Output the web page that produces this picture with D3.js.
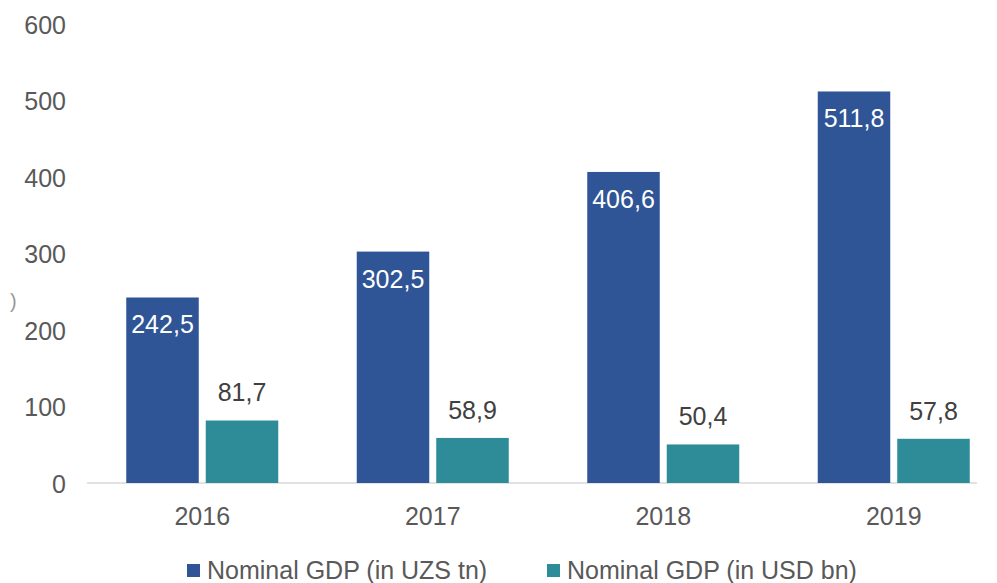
<!DOCTYPE html>
<html>
<head>
<meta charset="utf-8">
<script src="https://cdn.jsdelivr.net/npm/d3@7"></script>
<style>
html,body{margin:0;padding:0;background:#fff;}
svg{display:block;font-family:"Liberation Sans",Arial,sans-serif;}
</style>
</head>
<body>
<svg id="chart" width="997" height="583"></svg>
<script>
const years = ["2016", "2017", "2018", "2019"];
const seriesNames = ["Nominal GDP (in UZS tn)", "Nominal GDP (in USD bn)"];
const uzsTn = [242.5, 302.5, 406.6, 511.8];
const usdBn = [81.7, 58.9, 50.4, 57.8];
const yTicks = [0, 100, 200, 300, 400, 500, 600];
const colors = ["#2F5597", "#2E8C99"];

const svg = d3.select("#chart");
const textColor = "#595959";
const fs = 25;

const x = d3.scaleBand().domain(years).range([87, 1009]).paddingInner(0).paddingOuter(0);
const y = d3.scaleLinear().domain([0, 600]).range([483, 24]);

const barW = 72.5, gap = 7;
const groupW = barW * 2 + gap;
const series = [uzsTn, usdBn];

// baseline
svg.append("line")
  .attr("x1", 87).attr("x2", 977)
  .attr("y1", y(0)).attr("y2", y(0))
  .attr("stroke", "#D9D9D9").attr("stroke-width", 1.5);

// y axis labels
const yAxis = d3.axisLeft(y).tickValues(yTicks).tickSize(0).tickPadding(0).tickFormat(d3.format("d"));
const gy = svg.append("g").attr("transform", "translate(66,0)").call(yAxis);
gy.select(".domain").remove();
gy.selectAll("text").attr("font-size", fs).attr("fill", textColor)
  .attr("font-family", "Liberation Sans, Arial, sans-serif").attr("dy", "0.36em");

// x axis labels
const xAxis = d3.axisBottom(x).tickSize(0).tickPadding(0);
const gx = svg.append("g").attr("transform", "translate(0,501)").call(xAxis);
gx.select(".domain").remove();
gx.selectAll("text").attr("font-size", fs).attr("fill", textColor)
  .attr("font-family", "Liberation Sans, Arial, sans-serif").attr("dy", "0.95em");

const fmt = v => d3.format(".1f")(v).replace(".", ",");

series.forEach((vals, si) => {
  const g = svg.append("g");
  const bx = d => x(d) + (x.bandwidth() - groupW) / 2 + si * (barW + gap);
  g.selectAll("rect").data(years).join("rect")
    .attr("x", bx)
    .attr("y", (d, i) => y(vals[i]))
    .attr("width", barW)
    .attr("height", (d, i) => y(0) - y(vals[i]))
    .attr("fill", colors[si]);
  g.selectAll("text").data(years).join("text")
    .attr("x", d => bx(d) + barW / 2)
    .attr("y", (d, i) => si === 0 ? y(vals[i]) + 36 : y(vals[i]) - 19)
    .attr("text-anchor", "middle")
    .attr("font-size", fs)
    .attr("fill", si === 0 ? "#FFFFFF" : "#404040")
    .text((d, i) => fmt(vals[i]));
});

// legend
const legend = svg.append("g");
const legendX = [187, 547];
seriesNames.forEach((name, i) => {
  legend.append("rect").attr("x", legendX[i]).attr("y", 564).attr("width", 13).attr("height", 13).attr("fill", colors[i]);
  legend.append("text").attr("x", legendX[i] + 20).attr("y", 579)
    .attr("font-size", fs).attr("fill", textColor).text(name);
});

// cropped artifact glyph at left
svg.append("text").attr("x", 10).attr("y", 308).attr("font-size", 20).attr("fill", "#999").text(")");
</script>
</body>
</html>
